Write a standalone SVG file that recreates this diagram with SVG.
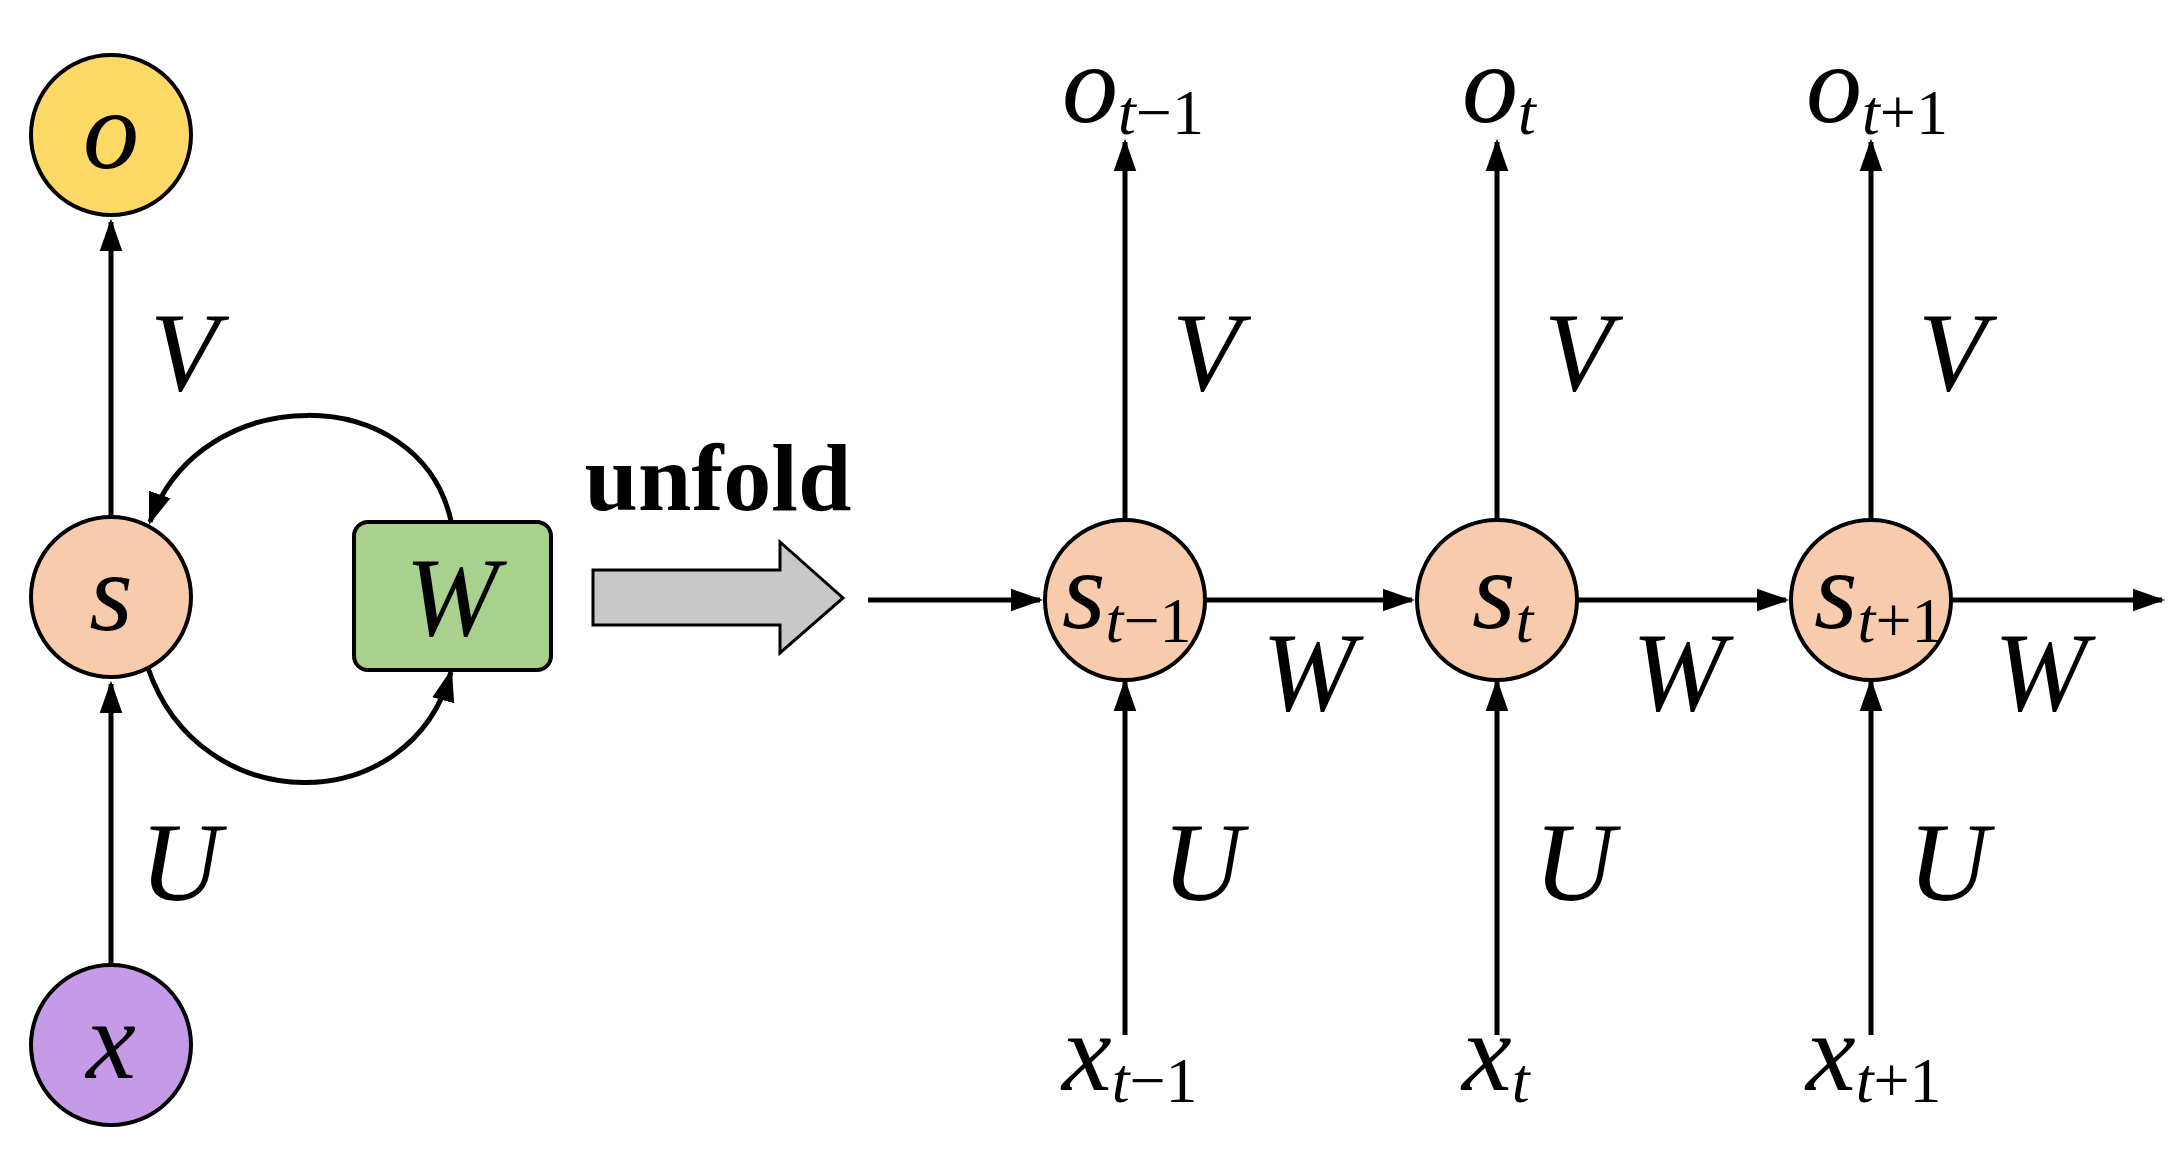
<svg xmlns="http://www.w3.org/2000/svg" width="2178" height="1153" viewBox="0 0 2178 1153">
<style>
.l{stroke:#000;stroke-width:5;fill:none}
.n{stroke:#000;stroke-width:4}
.t{font-family:"Liberation Serif",serif;font-style:italic;font-size:112px}
.s{font-family:"Liberation Serif",serif;font-size:64px;font-style:normal}
.i{font-style:italic}
</style>
<defs><marker id="b" viewBox="0 0 10 10" refX="9" refY="5" markerWidth="6.5" markerHeight="6.5" orient="auto"><path d="M0,1.5L10,5L0,8.5z"/></marker></defs>
<g id="connectors">
<line class="l" x1="111" y1="516" x2="111" y2="222" marker-end="url(#b)"/>
<line class="l" x1="111" y1="964" x2="111" y2="684" marker-end="url(#b)"/>
<path class="l" d="M451,521 C420,380 200,380 150,522" marker-end="url(#b)"/>
<path class="l" d="M148,668 C200,820 410,820 451,672" marker-end="url(#b)"/>
<line class="l" x1="868" y1="600" x2="1040" y2="600" marker-end="url(#b)"/>
<line class="l" x1="1206" y1="600" x2="1412" y2="600" marker-end="url(#b)"/>
<line class="l" x1="1578" y1="600" x2="1786" y2="600" marker-end="url(#b)"/>
<line class="l" x1="1952" y1="600" x2="2162" y2="600" marker-end="url(#b)"/>
<line class="l" x1="1125" y1="519" x2="1125" y2="142" marker-end="url(#b)"/>
<line class="l" x1="1497" y1="519" x2="1497" y2="142" marker-end="url(#b)"/>
<line class="l" x1="1871" y1="519" x2="1871" y2="142" marker-end="url(#b)"/>
<line class="l" x1="1125" y1="1035" x2="1125" y2="682" marker-end="url(#b)"/>
<line class="l" x1="1497" y1="1035" x2="1497" y2="682" marker-end="url(#b)"/>
<line class="l" x1="1871" y1="1035" x2="1871" y2="682" marker-end="url(#b)"/>
</g>
<g id="o"><circle class="n" cx="111" cy="135" r="80" fill="#ffd966"/><text class="t" x="111" y="168" text-anchor="middle">o</text></g>
<g id="s"><circle class="n" cx="111" cy="597" r="80" fill="#f8cbad"/><text class="t" x="111" y="630" text-anchor="middle">s</text></g>
<g id="x"><circle class="n" cx="111" cy="1045" r="80" fill="#c59ae6"/><text class="t" x="111" y="1078" text-anchor="middle">x</text></g>
<g id="W"><rect class="n" x="354" y="522" width="197" height="148" rx="14" fill="#a9d18e"/><text class="t" x="452" y="635" text-anchor="middle">W</text></g>
<g id="labels-left"><text class="t" x="150" y="390">V</text><text class="t" x="140" y="900">U</text></g>
<g id="unfold"><text x="718" y="510" font-family="Liberation Serif,serif" font-weight="bold" font-size="96" text-anchor="middle">unfold</text>
<path d="M593,570H780V542L843,598L780,653V625H593z" fill="#c8c8c8" stroke="#000" stroke-width="3"/></g>
<g id="st1"><circle class="n" cx="1125" cy="600" r="80" fill="#f8cbad"/><text class="t" x="1062" y="628">s<tspan class="s" dy="14"><tspan class="i">t</tspan>−1</tspan></text></g>
<g id="st"><circle class="n" cx="1497" cy="600" r="80" fill="#f8cbad"/><text class="t" x="1472" y="628">s<tspan class="s i" dy="14">t</tspan></text></g>
<g id="st2"><circle class="n" cx="1871" cy="600" r="80" fill="#f8cbad"/><text class="t" x="1814" y="628">s<tspan class="s" dy="14"><tspan class="i">t</tspan>+1</tspan></text></g>
<g id="outputs">
<text class="t" x="1062" y="122">o<tspan class="s" dy="12"><tspan class="i">t</tspan>−1</tspan></text>
<text class="t" x="1462" y="122">o<tspan class="s i" dy="12">t</tspan></text>
<text class="t" x="1806" y="122">o<tspan class="s" dy="12"><tspan class="i">t</tspan>+1</tspan></text>
</g>
<g id="inputs">
<text class="t" x="1062" y="1090">x<tspan class="s" dy="12"><tspan class="i">t</tspan>−1</tspan></text>
<text class="t" x="1462" y="1090">x<tspan class="s i" dy="12">t</tspan></text>
<text class="t" x="1806" y="1090">x<tspan class="s" dy="12"><tspan class="i">t</tspan>+1</tspan></text>
</g>
<g id="labels-right">
<text class="t" x="1172" y="390">V</text><text class="t" x="1544" y="390">V</text><text class="t" x="1918" y="390">V</text>
<text class="t" x="1162" y="900">U</text><text class="t" x="1534" y="900">U</text><text class="t" x="1908" y="900">U</text>
<text class="t" x="1262" y="710">W</text><text class="t" x="1632" y="710">W</text><text class="t" x="1994" y="710">W</text>
</g>
</svg>
